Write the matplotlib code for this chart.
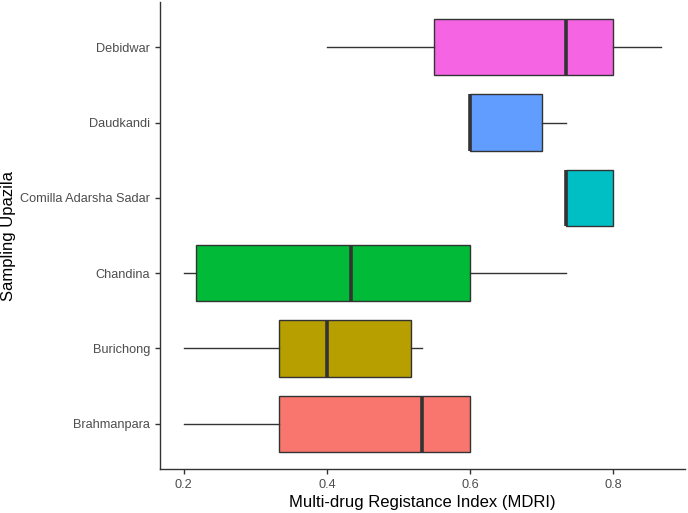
import matplotlib
matplotlib.use("Agg")
import matplotlib.pyplot as plt

plt.rcParams['font.family'] = ['Liberation Sans', 'DejaVu Sans']

# bottom to top, as in the plot
upazilas = ["Brahmanpara", "Burichong", "Chandina", "Comilla Adarsha Sadar",
            "Daudkandi", "Debidwar"]
whis_lo = [0.2, 0.2, 0.2, 0.7333, 0.6, 0.4]
q1 = [0.3333, 0.3333, 0.2167, 0.7333, 0.6, 0.55]
median = [0.5333, 0.4, 0.4333, 0.7333, 0.6, 0.7333]
q3 = [0.6, 0.5167, 0.6, 0.8, 0.7, 0.8]
whis_hi = [0.6, 0.5333, 0.7333, 0.8, 0.7333, 0.8667]
colors = ["#F8766D", "#B79F00", "#00BA38", "#00BFC4", "#619CFF", "#F564E3"]

stats = []
for i, name in enumerate(upazilas):
    stats.append({"label": name, "whislo": whis_lo[i], "q1": q1[i], "med": median[i],
                  "q3": q3[i], "whishi": whis_hi[i], "fliers": []})

fig = plt.figure(figsize=(6.88, 5.13), dpi=100)
ax = fig.add_axes([0.2326, 0.0858, 0.7630, 0.9102])

pos = list(range(1, len(upazilas) + 1))
bp = ax.bxp(stats, positions=pos, vert=False, widths=0.75, patch_artist=True,
            showcaps=False,
            boxprops=dict(edgecolor="#333333", linewidth=1.0),
            medianprops=dict(color="#333333", linewidth=2.6, solid_capstyle="butt"),
            whiskerprops=dict(color="#333333", linewidth=1.0))
for patch, c in zip(bp["boxes"], colors):
    patch.set_facecolor(c)

ax.set_xlim(0.1667, 0.9)
ax.set_ylim(0.4, 6.6)
ax.set_xticks([0.2, 0.4, 0.6, 0.8])
ax.set_xticklabels(["0.2", "0.4", "0.6", "0.8"])
ax.set_yticks(pos)
ax.set_yticklabels(upazilas)

for s in ["top", "right"]:
    ax.spines[s].set_visible(False)
for s in ["left", "bottom"]:
    ax.spines[s].set_color("#333333")
    ax.spines[s].set_linewidth(1.0)
ax.tick_params(axis="both", colors="#333333", labelcolor="#4D4D4D",
               labelsize=9.2, length=3.5, width=1.0)

ax.set_xlabel("Multi-drug Registance Index (MDRI)", fontsize=12, color="black", labelpad=3)
ax.set_ylabel("Sampling Upazila", fontsize=12, color="black", labelpad=3)

fig.savefig("out.png", dpi=100)
